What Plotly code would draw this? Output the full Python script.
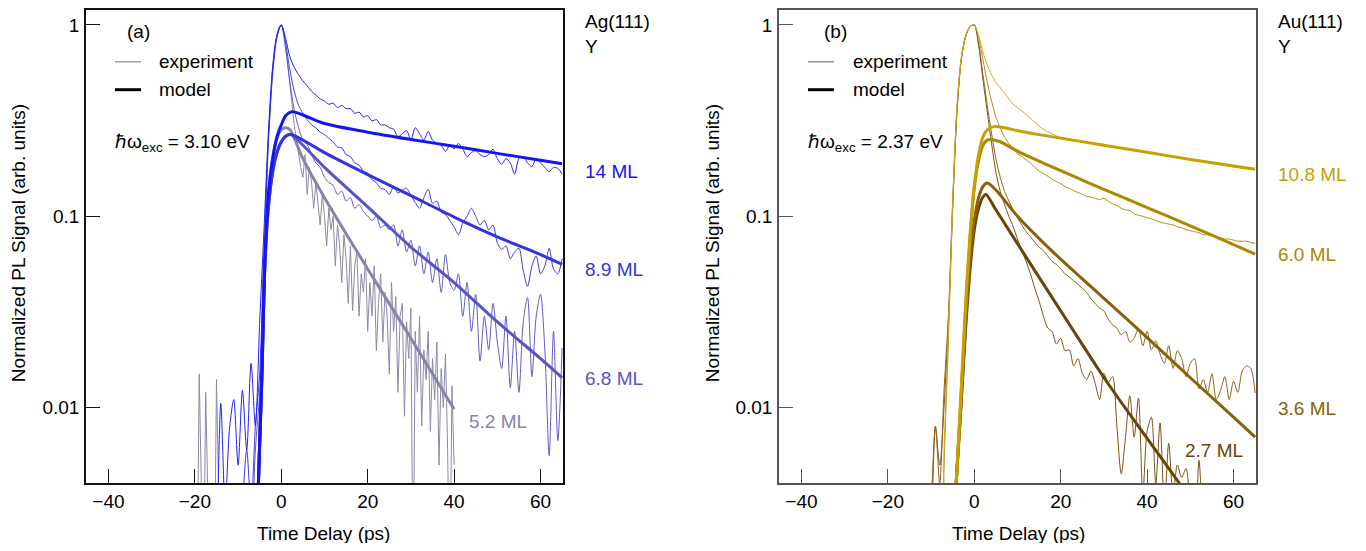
import plotly.graph_objects as go

# ---------------- panel (a): Ag(111) ----------------
# experiments sampled every 1 ps starting at -20 ps
A_T0, A_DT = -20, 1
a14_exp = [0.001, 0.001, 0.001, 0.001, 0.001, 0.002, 0.0105, 0.003, 0.0077, 0.011,
           0.005, 0.0123, 0.006, 0.017, 0.008, 0.028, 0.085, 0.27, 0.6, 0.88,
           1.0, 0.85, 0.68, 0.6, 0.55, 0.51, 0.48, 0.45, 0.43, 0.41,
           0.40, 0.385, 0.39, 0.37, 0.38, 0.365, 0.365, 0.345, 0.35, 0.33,
           0.335, 0.315, 0.32, 0.30, 0.30, 0.29, 0.285, 0.26, 0.27, 0.28,
           0.25, 0.29, 0.27, 0.25, 0.277, 0.25, 0.24, 0.235, 0.218, 0.235,
           0.225, 0.24, 0.225, 0.205, 0.215, 0.22, 0.21, 0.205, 0.21, 0.224,
           0.2, 0.187, 0.2, 0.19, 0.166, 0.2, 0.205, 0.19, 0.182, 0.2,
           0.19, 0.18, 0.171, 0.18, 0.178, 0.166]
a89_exp = [0.001, 0.001, 0.001, 0.001, 0.001, 0.001, 0.001, 0.001, 0.001, 0.001,
           0.001, 0.003, 0.006, 0.003, 0.008, 0.015, 0.07, 0.25, 0.58, 0.88,
           1.0, 0.8, 0.58, 0.45, 0.38, 0.345, 0.32, 0.3, 0.29, 0.275,
           0.267, 0.255, 0.245, 0.23, 0.228, 0.21, 0.205, 0.19, 0.185, 0.172,
           0.168, 0.155, 0.15, 0.14, 0.138, 0.13, 0.143, 0.132, 0.137, 0.14,
           0.128, 0.118, 0.11, 0.125, 0.138, 0.117, 0.12, 0.105, 0.102, 0.095,
           0.088, 0.08, 0.092, 0.1, 0.11, 0.1, 0.09, 0.095, 0.085, 0.09,
           0.0725, 0.067, 0.07, 0.06, 0.065, 0.068, 0.052, 0.043, 0.055, 0.062,
           0.05, 0.055, 0.068, 0.053, 0.05, 0.06]
a68_exp = [0.001, 0.001, 0.001, 0.001, 0.001, 0.001, 0.001, 0.001, 0.001, 0.001,
           0.001, 0.001, 0.004, 0.002, 0.006, 0.012, 0.06, 0.24, 0.55, 0.86,
           1.0, 0.75, 0.5, 0.36, 0.29, 0.25, 0.237, 0.21, 0.19, 0.18,
           0.16, 0.15, 0.145, 0.13, 0.135, 0.12, 0.125, 0.11, 0.115, 0.106,
           0.1, 0.095, 0.1, 0.087, 0.09, 0.085, 0.09, 0.07, 0.085, 0.065,
           0.075, 0.055, 0.07, 0.05, 0.065, 0.045, 0.06, 0.04, 0.063, 0.045,
           0.041, 0.05, 0.03, 0.045, 0.025, 0.039, 0.0175, 0.03, 0.02, 0.035,
           0.022, 0.016, 0.03, 0.0127, 0.025, 0.012, 0.028, 0.0375, 0.0145, 0.03,
           0.039, 0.02, 0.0056, 0.025, 0.0067, 0.0205]
# 5.2 ML experiment: every 0.5 ps from -20 ps to 40 ps
A52_T0, A52_DT = -20, 0.5
a52_exp = [0.001, 0.001, 0.015, 0.001, 0.001, 0.012, 0.001, 0.001, 0.001, 0.001,
           0.014, 0.001, 0.001, 0.001, 0.001, 0.001, 0.001, 0.001, 0.001, 0.001,
           0.001, 0.001, 0.001, 0.001, 0.001, 0.001, 0.001, 0.001, 0.001, 0.002,
           0.006, 0.018, 0.05, 0.12, 0.25, 0.42, 0.6, 0.78, 0.9, 0.98,
           1.0, 0.95, 0.8, 0.62, 0.48, 0.38, 0.3, 0.25, 0.21, 0.18,
           0.16, 0.21, 0.13, 0.18, 0.15, 0.11, 0.15, 0.12, 0.09, 0.13,
           0.1, 0.07, 0.11, 0.085, 0.1, 0.055, 0.09, 0.07, 0.045, 0.08,
           0.06, 0.035, 0.07, 0.032, 0.055, 0.065, 0.03, 0.05, 0.04, 0.06,
           0.025, 0.045, 0.03, 0.055, 0.0198, 0.035, 0.05, 0.022, 0.04, 0.03,
           0.015, 0.045, 0.025, 0.038, 0.012, 0.03, 0.035, 0.009, 0.028, 0.018,
           0.033, 0.001, 0.025, 0.012, 0.03, 0.008, 0.02, 0.014, 0.025, 0.0075,
           0.018, 0.011, 0.022, 0.005, 0.016, 0.01, 0.019, 0.006, 0.001, 0.013,
           0.005]

a14_mod_t = [-5.3, -4.5, -3.8, -3, -2, -1, 0, 1, 2.4, 5, 10, 20, 30, 40, 50, 60, 65]
a14_mod = [0.004, 0.015, 0.06, 0.13, 0.2, 0.26, 0.3, 0.335, 0.352, 0.338, 0.305,
           0.275, 0.252, 0.232, 0.213, 0.196, 0.188]
a89_mod_t = [-5.3, -4.5, -3.8, -3, -2, -1, 0, 1, 2.2, 5, 10, 20, 30, 40, 50, 60, 65]
a89_mod = [0.004, 0.014, 0.055, 0.11, 0.17, 0.215, 0.245, 0.262, 0.267, 0.25, 0.215,
           0.165, 0.128, 0.099, 0.078, 0.063, 0.056]
a68_mod_t = [-5.3, -4.5, -3.8, -3, -2, -1, 0, 1, 2.2, 5, 10, 20, 30, 40, 50, 60, 65]
a68_mod = [0.004, 0.014, 0.055, 0.11, 0.17, 0.215, 0.245, 0.262, 0.267, 0.235, 0.18,
           0.112, 0.069, 0.045, 0.028, 0.018, 0.0143]
a52_mod_t = [-5.3, -4.5, -3.8, -3, -2, -1, 0, 1, 2, 5, 10, 20, 30, 40]
a52_mod = [0.004, 0.015, 0.065, 0.13, 0.2, 0.255, 0.283, 0.29, 0.283, 0.2, 0.125,
           0.053, 0.023, 0.0098]

# ---------------- panel (b): Au(111) ----------------
B_T0, B_DT = -12, 1
b108_exp = [0.001, 0.001, 0.001, 0.001, 0.001, 0.006, 0.025, 0.12, 0.38, 0.68,
            0.88, 0.98, 1.0, 0.88, 0.72, 0.62, 0.55, 0.5, 0.47, 0.44,
            0.41, 0.385, 0.37, 0.355, 0.34, 0.325, 0.31, 0.295, 0.285, 0.277,
            0.27, 0.263, 0.257, 0.252, 0.249, 0.247, 0.246, 0.244, 0.242, 0.240,
            0.239, 0.236, 0.235, 0.233, 0.231, 0.23, 0.228, 0.226, 0.223, 0.222,
            0.219, 0.218, 0.216, 0.215, 0.212, 0.211, 0.208, 0.207, 0.205, 0.204,
            0.201, 0.2, 0.198, 0.196, 0.194, 0.193, 0.19, 0.189, 0.188, 0.186,
            0.184, 0.183, 0.181, 0.18, 0.178, 0.177, 0.176, 0.175]
b60_exp = [0.001, 0.001, 0.001, 0.001, 0.001, 0.005, 0.022, 0.11, 0.36, 0.66,
           0.87, 0.98, 1.0, 0.85, 0.66, 0.5, 0.4, 0.33, 0.29, 0.26,
           0.24, 0.225, 0.212, 0.205, 0.197, 0.19, 0.18, 0.172, 0.167, 0.162,
           0.156, 0.152, 0.148, 0.143, 0.14, 0.136, 0.133, 0.13, 0.127, 0.126,
           0.124, 0.122, 0.124, 0.12, 0.116, 0.114, 0.11, 0.108, 0.107, 0.103,
           0.101, 0.1, 0.098, 0.097, 0.095, 0.093, 0.092, 0.091, 0.09, 0.088,
           0.087, 0.085, 0.084, 0.083, 0.082, 0.08, 0.08, 0.079, 0.078, 0.077,
           0.076, 0.076, 0.075, 0.074, 0.074, 0.074, 0.073, 0.072]
b36_exp = [0.001, 0.001, 0.003, 0.008, 0.004, 0.0123, 0.03, 0.12, 0.37, 0.67,
           0.87, 0.98, 1.0, 0.8, 0.55, 0.38, 0.27, 0.2, 0.16, 0.135,
           0.12, 0.108, 0.098, 0.09, 0.083, 0.078, 0.073, 0.069, 0.066, 0.062,
           0.058, 0.056, 0.053, 0.05, 0.048, 0.046, 0.044, 0.042, 0.04, 0.037,
           0.035, 0.033, 0.032, 0.029, 0.027, 0.026, 0.024, 0.025, 0.022, 0.023,
           0.026, 0.021, 0.025, 0.02, 0.0223, 0.019, 0.017, 0.021, 0.016, 0.0198,
           0.018, 0.0145, 0.017, 0.018, 0.0125, 0.014, 0.012, 0.015, 0.011, 0.0123,
           0.0145, 0.011, 0.0137, 0.012, 0.0155, 0.0165, 0.016, 0.0119]
b27_exp = [0.001, 0.001, 0.002, 0.0079, 0.005, 0.01, 0.028, 0.11, 0.35, 0.66,
           0.87, 0.98, 1.0, 0.78, 0.52, 0.35, 0.24, 0.17, 0.135, 0.115,
           0.1, 0.088, 0.076, 0.066, 0.058, 0.05, 0.042, 0.036, 0.03, 0.026,
           0.025, 0.0215, 0.023, 0.0198, 0.02, 0.0165, 0.018, 0.0151, 0.014, 0.0155,
           0.0133, 0.011, 0.0151, 0.0135, 0.0145, 0.008, 0.0045, 0.007, 0.0115, 0.007,
           0.0112, 0.0035, 0.0075, 0.0089, 0.004, 0.0083, 0.003, 0.0065, 0.0035, 0.005,
           0.0043, 0.0048, 0.003, 0.002, 0.0053, 0.002, 0.001, 0.001]

b108_mod_t = [-4.2, -3, -2, -1, 0, 1, 2, 3, 4.6, 7, 10, 15, 20, 30, 40, 50, 60, 65]
b108_mod = [0.004, 0.013, 0.035, 0.08, 0.145, 0.21, 0.26, 0.283, 0.294, 0.29, 0.28,
            0.267, 0.256, 0.235, 0.216, 0.198, 0.183, 0.176]
b60_mod_t = [-4.2, -3, -2, -1, 0, 1, 2, 3, 3.9, 6, 10, 15, 20, 26.6, 30, 40, 50, 60, 65]
b60_mod = [0.004, 0.012, 0.033, 0.075, 0.14, 0.195, 0.235, 0.25, 0.252, 0.245, 0.219,
           0.194, 0.173, 0.149, 0.138, 0.111, 0.089, 0.071, 0.0634]
b36_mod_t = [-4.2, -3, -2, -1, 0, 1, 2, 3, 5, 10, 18, 25, 30, 40, 50, 60, 65]
b36_mod = [0.004, 0.011, 0.028, 0.058, 0.095, 0.125, 0.143, 0.149, 0.137, 0.1, 0.0657,
           0.047, 0.0372, 0.0232, 0.0143, 0.0089, 0.007]
b27_mod_t = [-4.2, -3, -2, -1, 0, 1, 2, 2.7, 5, 11.1, 20, 30.5, 40, 47.5, 50]
b27_mod = [0.004, 0.011, 0.026, 0.052, 0.085, 0.11, 0.126, 0.13, 0.108, 0.0657,
           0.032, 0.0138, 0.0069, 0.004, 0.0033]

FONT = "Liberation Sans, Arial, sans-serif"
FS = 19

fig = go.Figure()


def exp_trace(vals, x0, dx, color, xa, ya, shape="spline"):
    fig.add_trace(go.Scatter(y=vals, x0=x0, dx=dx, mode="lines", xaxis=xa, yaxis=ya,
                             line=dict(color=color, width=1, shape=shape, smoothing=0.8),
                             showlegend=False, hoverinfo="skip"))


def model_trace(t, vals, color, xa, ya):
    fig.add_trace(go.Scatter(x=t, y=vals, mode="lines", xaxis=xa, yaxis=ya,
                             line=dict(color=color, width=3, shape="spline", smoothing=0.8),
                             showlegend=False, hoverinfo="skip"))


# panel (a)
C14, C89, C68, C52 = "#1414f5", "#3434dc", "#5656c4", "#8585a8"
exp_trace(a52_exp, A52_T0, A52_DT, "#8a8aaa", "x", "y", shape="linear")
exp_trace(a68_exp, A_T0, A_DT, "#5c5cc8", "x", "y")
exp_trace(a89_exp, A_T0, A_DT, "#3c3ce0", "x", "y")
exp_trace(a14_exp, A_T0, A_DT, "#2020ff", "x", "y")
model_trace(a52_mod_t, a52_mod, C52, "x", "y")
model_trace(a68_mod_t, a68_mod, C68, "x", "y")
model_trace(a89_mod_t, a89_mod, C89, "x", "y")
model_trace(a14_mod_t, a14_mod, C14, "x", "y")

# panel (b)
C108, C60, C36, C27 = "#c8a000", "#ae8600", "#8a6008", "#6a4408"
exp_trace(b27_exp, B_T0, B_DT, "#7a5218", "x2", "y2")
exp_trace(b36_exp, B_T0, B_DT, "#8e6418", "x2", "y2")
exp_trace(b60_exp, B_T0, B_DT, "#b48e18", "x2", "y2")
exp_trace(b108_exp, B_T0, B_DT, "#d0a820", "x2", "y2")
model_trace(b27_mod_t, b27_mod, C27, "x2", "y2")
model_trace(b36_mod_t, b36_mod, C36, "x2", "y2")
model_trace(b60_mod_t, b60_mod, C60, "x2", "y2")
model_trace(b108_mod_t, b108_mod, C108, "x2", "y2")

# the page body has an 8 px margin, so the figure is made 16 px smaller
# and positions below are given in window pixels
OFF = 8
W, H = 1366 - 2 * OFF, 551 - 2 * OFF


def px(x):
    return (x - OFF) / W


def py(y):
    return 1 - (y - OFF) / H


def xaxis_cfg(dom, lc):
    return dict(domain=dom, range=[-45.2, 65.2], tickvals=[-40, -20, 0, 20, 40, 60],
                ticks="inside", ticklen=14, tickwidth=1.2, tickcolor=lc,
                showline=True, linecolor=lc, linewidth=1.5, mirror=True,
                showgrid=False, zeroline=False, ticklabelstandoff=0,
                tickfont=dict(family=FONT, size=FS, color="black"))


def yaxis_cfg(anchor, lc):
    return dict(domain=[py(483), 1.0], type="log", range=[-2.396, 0.078], anchor=anchor,
                tickvals=[0.01, 0.1, 1], ticktext=["0.01", "0.1", "1"],
                ticks="inside", ticklen=14, tickwidth=1.2, tickcolor=lc,
                showline=True, linecolor=lc, linewidth=1.5, mirror=True,
                showgrid=False, zeroline=False, ticklabelstandoff=1,
                tickfont=dict(family=FONT, size=FS, color="black"))


fig.update_layout(
    width=W, height=H, margin=dict(l=0, r=0, t=0, b=0),
    paper_bgcolor="white", plot_bgcolor="white",
    font=dict(family=FONT, size=FS, color="black"),
    xaxis=xaxis_cfg([px(86), px(563)], "#111111"),
    yaxis=yaxis_cfg("x", "#111111"),
    xaxis2=xaxis_cfg([px(779), px(1256)], "#555555"),
    yaxis2=yaxis_cfg("x2", "#555555"),
)
fig.update_layout(xaxis2=dict(anchor="y2"))

ann = []


def text(x, y, s, color="black", anchor="left"):
    ann.append(dict(x=px(x), y=py(y), xref="paper", yref="paper", text=s, showarrow=False,
                    xanchor=anchor, yanchor="middle",
                    font=dict(family=FONT, size=FS, color=color)))


# axis titles
for cx in (323, 1018):
    text(cx, 533, "Time Delay (ps)", anchor="center")
for cx in (18, 712):
    ann.append(dict(x=px(cx), y=py(242), xref="paper", yref="paper", showarrow=False,
                    text="Normalized PL Signal (arb. units)", textangle=-90,
                    xanchor="center", yanchor="middle",
                    font=dict(family=FONT, size=FS, color="black")))

# panel (a) labels
text(138, 30, "(a)", anchor="center")
text(157, 60, "experiment")
text(157, 88, "model")
text(113, 142, "ℏω<sub>exc</sub> = 3.10 eV")
text(583, 20, "Ag(111)")
text(583, 45, "Y")
text(583, 170, "14 ML", C14)
text(583, 268, "8.9 ML", C89)
text(583, 378, "6.8 ML", C68)
text(467, 421, "5.2 ML", C52)

# panel (b) labels
text(836, 30, "(b)", anchor="center")
text(851, 60, "experiment")
text(851, 88, "model")
text(806, 142, "ℏω<sub>exc</sub> = 2.37 eV")
text(1276, 20, "Au(111)")
text(1276, 45, "Y")
text(1276, 173, "10.8 ML", C108)
text(1276, 253, "6.0 ML", C60)
text(1276, 408, "3.6 ML", C36)
text(1183, 450, "2.7 ML", C27)

fig.update_layout(annotations=ann)

# legend samples (drawn by hand as in the original)
shapes = []
for x0, thin in ((115, "#888888"), (808, "#777777")):
    shapes.append(dict(type="line", xref="paper", yref="paper", x0=px(x0), x1=px(x0 + 26),
                       y0=py(60), y1=py(60), line=dict(color=thin, width=1.2)))
    shapes.append(dict(type="line", xref="paper", yref="paper", x0=px(x0), x1=px(x0 + 26),
                       y0=py(88), y1=py(88), line=dict(color="black", width=3)))
fig.update_layout(shapes=shapes)

fig.write_html("out.html")
